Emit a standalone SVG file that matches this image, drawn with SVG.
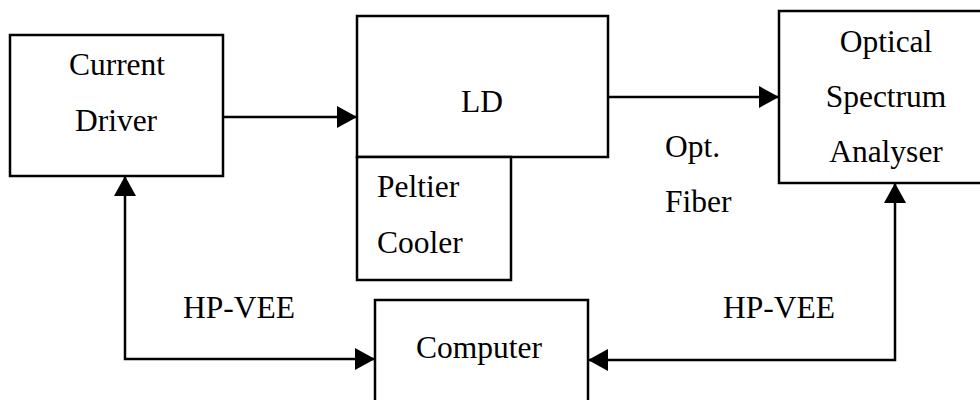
<svg xmlns="http://www.w3.org/2000/svg" width="980" height="400" viewBox="0 0 980 400">
<style>
.box{fill:#fff;stroke:#000;stroke-width:2.5}
text{font-family:"Liberation Serif","Times New Roman",serif;font-size:31.5px;fill:#000}
.c{text-anchor:middle}
.ln{fill:none;stroke:#000;stroke-width:2.5}
</style>
<defs>
<marker id="ah" markerUnits="userSpaceOnUse" markerWidth="22" markerHeight="24" refX="20" refY="11" orient="auto-start-reverse">
<path d="M0,0 L20,11 L0,22 Z" fill="#000"/>
</marker>
</defs>
<rect width="980" height="400" fill="#fff"/>
<g id="connectors">
<line class="ln" x1="223" y1="117" x2="357" y2="117" marker-end="url(#ah)"/>
<line class="ln" x1="608" y1="97" x2="779" y2="97" marker-end="url(#ah)"/>
<path class="ln" d="M125,176 L125,359 L375,359" marker-start="url(#ah)" marker-end="url(#ah)"/>
<path class="ln" d="M588,360 L895,360 L895,183" marker-start="url(#ah)" marker-end="url(#ah)"/>
</g>
<g id="current-driver">
<rect class="box" x="10" y="35" width="213" height="141"/>
<text class="c" x="117" y="75">Current</text>
<text class="c" x="116" y="131">Driver</text>
</g>
<g id="ld">
<rect class="box" x="357" y="16" width="251" height="141"/>
<text class="c" x="482" y="112">LD</text>
</g>
<g id="peltier-cooler">
<rect class="box" x="357" y="157" width="154" height="123"/>
<text x="377" y="197">Peltier</text>
<text x="377" y="253">Cooler</text>
</g>
<g id="osa">
<rect class="box" x="779" y="11" width="215" height="172"/>
<text class="c" x="886" y="52">Optical</text>
<text class="c" x="886" y="107">Spectrum</text>
<text class="c" x="886" y="162">Analyser</text>
</g>
<g id="computer">
<rect class="box" x="375" y="300" width="213" height="120"/>
<text class="c" x="479" y="358">Computer</text>
</g>
<g id="labels">
<text x="665" y="157">Opt.</text>
<text x="665" y="212">Fiber</text>
<text x="183" y="318">HP-VEE</text>
<text x="723" y="318">HP-VEE</text>
</g>
</svg>
